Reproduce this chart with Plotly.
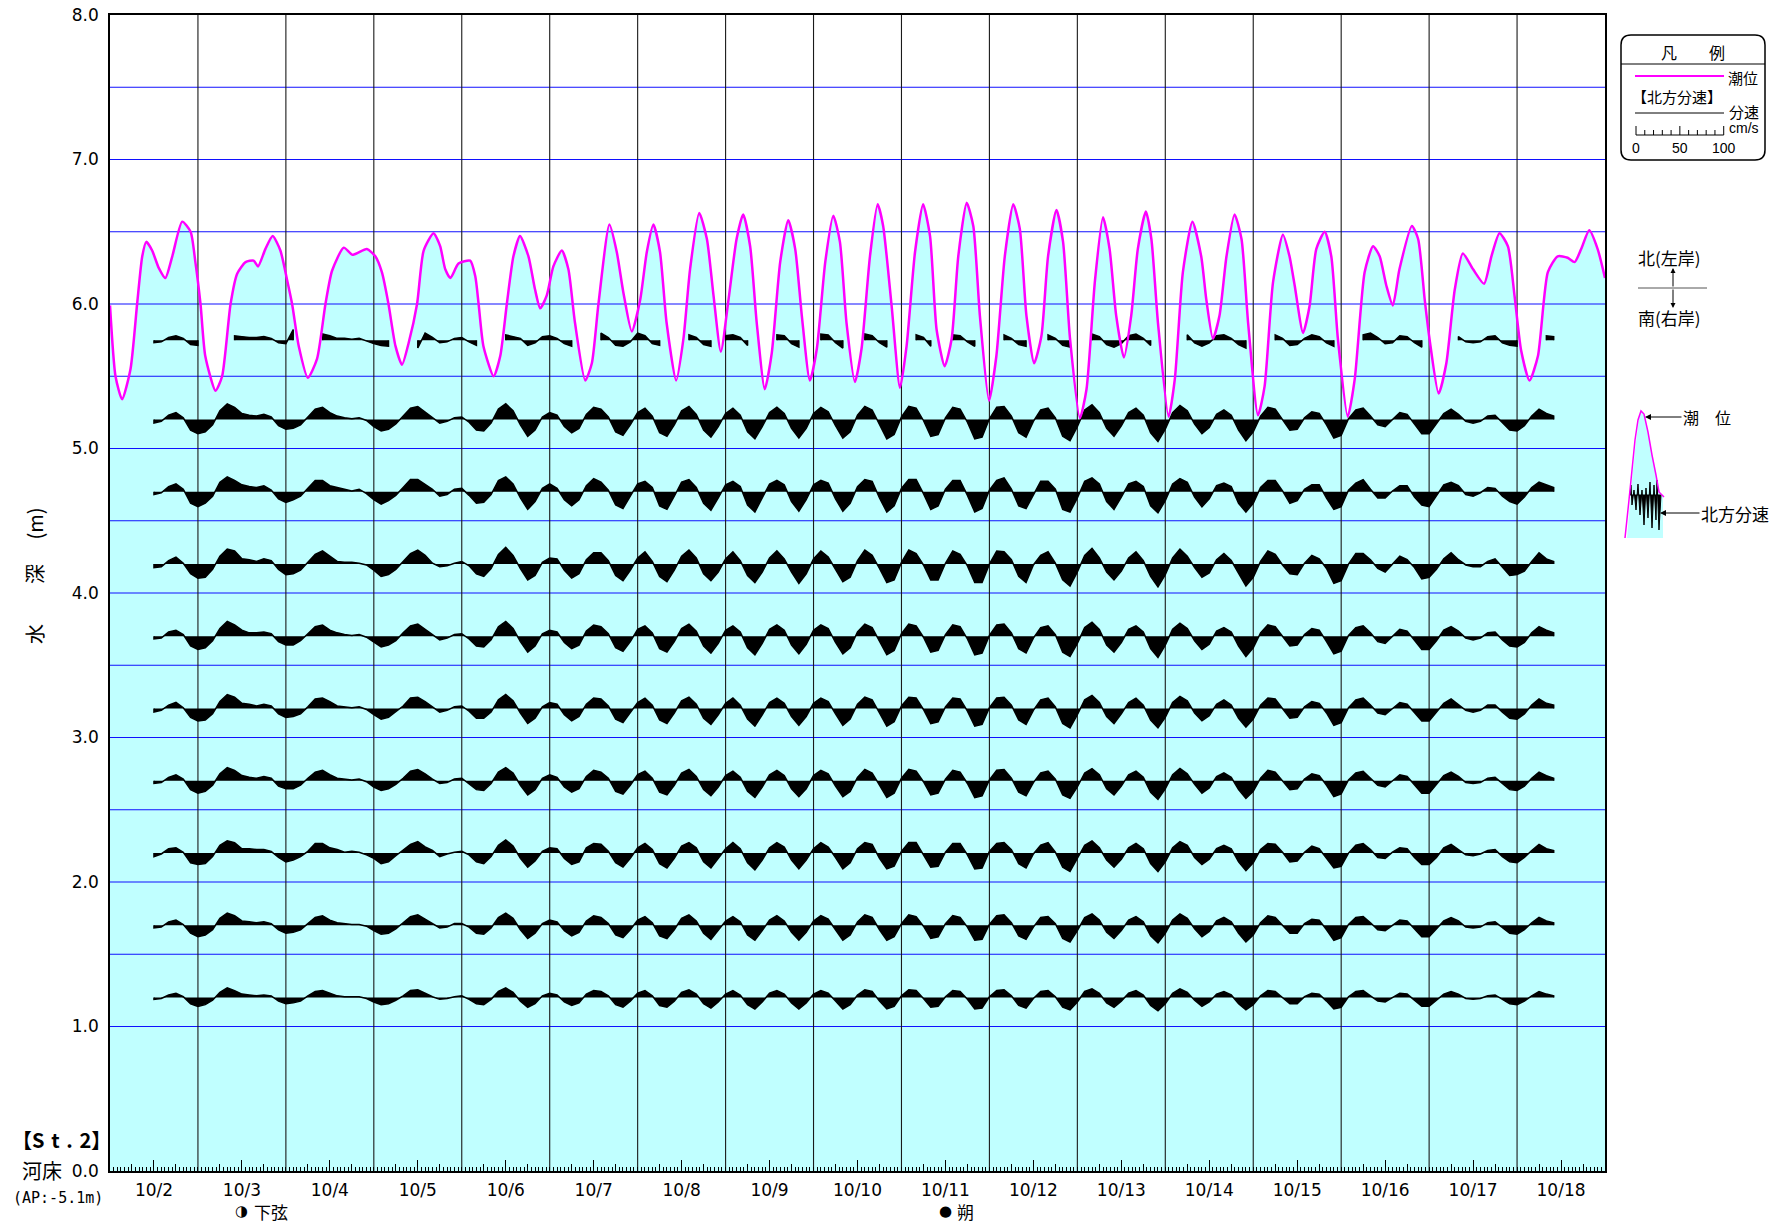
import plotly.graph_objects as go

# ---------------- geometry (pixels of the 1771x1226 page) ----------------
W, H = 1771, 1226
ML, MR, MT, MB = 110, 166, 15, 55
PX0, PX1 = ML, W - MR
PY0, PY1 = MT, H - MB


def px(x):
    return (x - PX0) / (PX1 - PX0)


def py(y):
    return (PY1 - y) / (PY1 - PY0)


# ---------------- data ----------------
X_HOURS = 408  # 10/2 00:00 .. 10/19 00:00
DATE_LABELS = ["10/2", "10/3", "10/4", "10/5", "10/6", "10/7", "10/8", "10/9", "10/10",
               "10/11", "10/12", "10/13", "10/14", "10/15", "10/16", "10/17", "10/18"]
DEPTH_TICKS = [0, 1, 2, 3, 4, 5, 6, 7, 8]
DEPTH_TICK_TEXT = ["0.0", "1.0", "2.0", "3.0", "4.0", "5.0", "6.0", "7.0", "8.0"]
GRID_DEPTHS = [1.0, 1.5, 2.0, 2.5, 3.0, 3.5, 4.0, 4.5, 5.0, 5.5, 6.0, 6.5, 7.0, 7.5]

TIDE_HOURS = [0, 1.5, 3.3, 5.6, 7.4, 8.8, 9.9, 11.5, 13.3, 15.1, 17.0, 19.7, 22.0, 23.3, 24.7, 26.0,
              28.8, 30.6, 32.9, 34.7, 37.0, 39.2, 40.4, 42.4, 44.4, 46.5, 48.3, 49.7, 51.5, 54.0,
              56.5, 58.8, 60.6, 63.8, 66.2, 70.1, 72.4, 74.2, 76.0, 77.9, 79.7, 81.5, 83.8, 85.6,
              88.3, 90.1, 91.5, 92.9, 95.1, 98.3, 99.7, 100.6, 101.9, 104.7, 106.5, 108.3, 110.1,
              111.9, 114.2, 116.0, 117.4, 119.2, 121.0, 123.3, 125.1, 126.9, 129.7, 131.5, 133.3,
              136.3, 138.3, 140.1, 142.4, 144.7, 146.5, 148.3, 150.1, 151.9, 154.5, 156.5, 158.3,
              160.8, 162.9, 164.7, 166.7, 168.8, 171.0, 172.8, 174.7, 176.5, 178.7, 180.6, 182.9,
              185.1, 187.0, 188.8, 191.0, 192.9, 195.2, 197.4, 199.2, 201.0, 203.3, 205.1, 207.4,
              209.5, 211.0, 213.3, 215.6, 217.4, 219.7, 221.9, 223.8, 225.6, 227.8, 229.7, 231.5,
              233.8, 235.6, 237.4, 239.9, 241.9, 244.2, 246.5, 248.3, 250.1, 252.2, 254.2, 256.0,
              258.3, 260.1, 262.0, 264.7, 266.5, 268.8, 271.0, 272.8, 274.6, 276.7, 278.7, 280.5,
              282.7, 284.2, 286.0, 288.9, 290.6, 292.8, 295.4, 297.8, 299.2, 301.0, 302.8, 304.7,
              306.9, 308.8, 310.6, 313.3, 315.1, 317.4, 320.1, 321.9, 323.3, 325.6, 327.4, 329.2,
              331.5, 333.3, 335.1, 337.8, 339.7, 342.4, 344.7, 346.5, 348.3, 350.1, 351.9, 355.3,
              357.0, 358.8, 360.1, 362.6, 364.7, 367.0, 369.2, 372.0, 375.0, 377.0, 379.2, 381.5,
              383.3, 385.1, 387.4, 389.7, 392.4, 395.1, 397.8, 399.7, 401.5, 403.7, 406.0, 408.0]
TIDE_DEPTH = [5.99, 5.50, 5.34, 5.55, 6.00, 6.33, 6.43, 6.37, 6.25, 6.18, 6.33, 6.57, 6.50, 6.29, 6.00, 5.64,
              5.40, 5.50, 6.00, 6.21, 6.29, 6.30, 6.26, 6.38, 6.47, 6.37, 6.17, 6.00, 5.71, 5.49,
              5.62, 6.00, 6.23, 6.39, 6.34, 6.38, 6.33, 6.22, 6.00, 5.71, 5.58, 5.73, 6.00, 6.37,
              6.49, 6.40, 6.24, 6.18, 6.28, 6.30, 6.19, 6.00, 5.71, 5.50, 5.64, 6.00, 6.33,
              6.47, 6.33, 6.10, 5.97, 6.06, 6.26, 6.37, 6.24, 5.87, 5.47, 5.59, 6.00,
              6.55, 6.36, 6.08, 5.81, 6.03, 6.36, 6.55, 6.36, 5.87, 5.47, 5.76, 6.24,
              6.63, 6.45, 6.06, 5.67, 6.03, 6.45, 6.62, 6.40, 5.87, 5.41, 5.66, 6.29,
              6.58, 6.38, 5.92, 5.47, 5.69, 6.29, 6.61, 6.43, 5.87, 5.46, 5.69, 6.33,
              6.69, 6.54, 5.99, 5.42, 5.71, 6.36, 6.69, 6.47, 5.82, 5.57, 5.76, 6.33,
              6.70, 6.54, 5.92, 5.33, 5.64, 6.33, 6.69, 6.52, 5.92, 5.59, 5.78, 6.33,
              6.65, 6.43, 5.76, 5.21, 5.41, 6.16, 6.60, 6.38, 5.92, 5.63, 5.92, 6.38,
              6.64, 6.45, 5.87, 5.22, 5.48, 6.22, 6.57, 6.33, 6.03, 5.76, 5.92, 6.33,
              6.62, 6.45, 5.87, 5.23, 5.43, 6.15, 6.48, 6.33, 6.13, 5.80, 5.99, 6.38,
              6.50, 6.33, 5.76, 5.22, 5.48, 6.22, 6.40, 6.33, 6.13, 5.99, 6.24, 6.54,
              6.45, 6.03, 5.76, 5.38, 5.59, 6.10, 6.35, 6.24, 6.14, 6.33, 6.49, 6.40,
              6.06, 5.68, 5.47, 5.64, 6.22, 6.33, 6.32, 6.29, 6.38, 6.51, 6.38, 6.18]

# north velocity component (cm/s), one value every 2 h from 10/2 12:00
VEL_HOURS = list(range(12, 395, 2))
SENSOR_DEPTHS = [5.75, 5.2, 4.7, 4.2, 3.7, 3.2, 2.7, 2.2, 1.7, 1.2]
N = None
VEL_575 = [-3, -2, 3, 5, 2, -5, -6, N, N, N,
           N, 5, 4, 3, 3, 4, 2, -3, -4, 12,
           N, N, N, 7, 5, 2, 2, 1, 2, -1,
           -4, -6, -7, N, N, N, -9, 8, 3, -3,
           -2, 2, 3, -2, -6, N, N, N, 6, 4,
           2, -6, -3, 4, 5, 2, -4, -7, N, N,
           N, 8, 3, -6, -7, -2, 8, 5, -4, -6,
           N, N, N, 6, 3, -5, -7, N, 5, 6,
           3, -6, N, N, N, 6, 5, -4, -8, N,
           N, 7, 6, -3, -9, N, N, 7, 5, -3,
           -8, N, N, N, 6, 3, -7, N, N, 6,
           5, -2, -7, N, N, N, 6, 2, -5, -7,
           N, N, 6, 2, -6, -8, N, N, 7, 4,
           -5, -8, -4, 5, 7, 2, -6, N, N, N,
           N, 6, -3, -7, -3, 5, 6, 2, -5, -9,
           N, N, N, 6, 2, -6, -5, 2, 6, 4,
           -3, -7, N, N, N, 6, 8, 3, -4, -3,
           5, 4, -3, -8, N, N, N, N, 4, -2,
           -3, -2, 4, 5, -3, -6, -7, N, N, N,
           5, 4]
VEL_520 = [-4, -2, 5, 8, 2, -12, -16, -14, -6, 10,
           18, 14, 7, 5, 4, 6, 3, -7, -11, -10,
           -6, 3, 12, 14, 8, 4, 2, 1, 2, -1,
           -8, -13, -11, -5, 4, 13, 15, 9, 2, -4,
           -2, 2, 3, -3, -12, -13, -4, 12, 18, 10,
           -6, -19, -12, 3, 8, 5, -8, -15, -10, 6,
           14, 12, 3, -14, -18, -6, 8, 13, 4, -15,
           -19, -6, 10, 15, 6, -12, -20, -8, 7, 13,
           5, -14, -22, -8, 8, 14, 7, -10, -21, -10,
           7, 14, 9, -7, -21, -14, 5, 15, 11, -6,
           -22, -17, 3, 15, 13, -1, -19, -17, 2, 14,
           12, -3, -22, -20, 1, 14, 15, 4, -15, -20,
           -2, 11, 13, 2, -19, -24, -8, 11, 17, 8,
           -10, -19, -7, 8, 13, 5, -15, -25, -11, 8,
           16, 10, -5, -16, -9, 6, 11, 5, -12, -24,
           -14, 4, 14, 12, 0, -12, -11, 2, 9, 7,
           -6, -21, -18, 1, 11, 13, 4, -6, -8, 0,
           8, 6, -5, -16, -16, -5, 7, 12, 6, -2,
           -4, -2, 4, 5, -4, -12, -13, -7, 4, 12,
           7, 4]
VEL_470 = [-3, -1, 6, 9, 3, -13, -17, -13, -5, 11,
           17, 13, 8, 6, 5, 7, 2, -8, -12, -9,
           -5, 4, 13, 13, 7, 5, 3, 1, 3, -2,
           -9, -14, -10, -4, 5, 14, 14, 8, 3, -5,
           -3, 3, 4, -4, -13, -12, -3, 13, 17, 9,
           -7, -20, -11, 4, 9, 4, -9, -16, -9, 7,
           15, 11, 2, -15, -19, -5, 9, 12, 5, -16,
           -20, -5, 11, 14, 5, -13, -21, -7, 8, 12,
           6, -15, -23, -7, 9, 13, 8, -11, -22, -9,
           8, 13, 10, -8, -22, -13, 6, 14, 12, -7,
           -23, -16, 4, 14, 14, -2, -20, -16, 3, 13,
           13, -4, -23, -19, 2, 13, 16, 3, -16, -19,
           -3, 12, 12, 3, -20, -23, -7, 12, 16, 9,
           -11, -20, -6, 9, 12, 6, -16, -24, -10, 9,
           15, 11, -6, -17, -8, 7, 10, 6, -13, -23,
           -13, 5, 13, 13, 1, -13, -10, 3, 8, 8,
           -7, -20, -17, 2, 10, 14, 3, -7, -7, 1,
           7, 7, -6, -15, -17, -4, 8, 11, 7, -3,
           -5, -1, 5, 4, -5, -11, -14, -6, 5, 11,
           8, 5]
VEL_420 = [-4, -3, 4, 8, 1, -11, -16, -15, -6, 9,
           17, 15, 6, 5, 3, 6, 4, -6, -12, -11,
           -7, 2, 11, 15, 9, 3, 2, 2, 1, -1,
           -7, -14, -12, -6, 3, 12, 16, 10, 1, -3,
           -2, 1, 3, -2, -11, -14, -5, 11, 19, 10,
           -5, -18, -13, 2, 7, 6, -7, -16, -11, 5,
           13, 13, 4, -13, -19, -7, 7, 14, 3, -14,
           -20, -7, 9, 16, 7, -11, -19, -9, 6, 14,
           4, -13, -21, -9, 7, 15, 6, -9, -22, -11,
           6, 15, 8, -6, -20, -15, 4, 16, 10, -5,
           -21, -18, 2, 16, 12, -1, -18, -18, 1, 15,
           11, -2, -21, -21, 0, 15, 14, 5, -14, -21,
           -1, 10, 14, 1, -18, -25, -9, 10, 18, 7,
           -9, -18, -8, 7, 14, 4, -14, -26, -12, 7,
           17, 9, -4, -15, -10, 5, 12, 4, -11, -25,
           -15, 3, 15, 11, -1, -11, -12, 1, 10, 6,
           -5, -22, -19, 0, 12, 12, 5, -5, -9, 0,
           9, 5, -4, -17, -15, -6, 6, 13, 5, -1,
           -3, -3, 3, 6, -3, -13, -12, -8, 3, 13,
           6, 3]
VEL_370 = [-3, -2, 5, 7, 2, -11, -15, -13, -5, 9,
           17, 13, 7, 4, 4, 5, 3, -6, -10, -10,
           -5, 3, 11, 13, 7, 4, 2, 1, 2, -1,
           -7, -12, -10, -5, 4, 12, 14, 8, 2, -4,
           -2, 2, 3, -3, -11, -12, -4, 11, 17, 9,
           -6, -18, -11, 3, 7, 5, -7, -14, -10, 6,
           13, 11, 3, -13, -17, -6, 8, 12, 4, -14,
           -18, -6, 9, 14, 6, -11, -19, -8, 7, 12,
           5, -13, -21, -8, 8, 13, 7, -10, -20, -9,
           7, 13, 9, -7, -20, -13, 5, 14, 10, -6,
           -21, -16, 3, 14, 12, -1, -18, -16, 2, 13,
           11, -3, -21, -19, 1, 13, 14, 4, -14, -19,
           -2, 10, 12, 2, -18, -23, -8, 10, 16, 8,
           -10, -18, -7, 8, 12, 5, -14, -24, -10, 8,
           15, 9, -5, -15, -9, 6, 10, 5, -11, -23,
           -13, 4, 13, 11, 0, -11, -10, 2, 9, 7,
           -6, -20, -17, 1, 10, 12, 4, -6, -8, 0,
           8, 6, -5, -15, -15, -5, 7, 11, 6, -2,
           -4, -2, 4, 5, -4, -11, -12, -7, 4, 11,
           7, 4]
VEL_320 = [-4, -2, 4, 7, 1, -10, -14, -13, -6, 8,
           16, 13, 6, 5, 3, 5, 3, -6, -10, -9,
           -6, 2, 11, 12, 8, 3, 2, 1, 2, -1,
           -7, -12, -10, -4, 3, 12, 13, 8, 2, -4,
           -2, 2, 3, -3, -11, -11, -4, 10, 16, 9,
           -5, -17, -11, 2, 7, 5, -7, -14, -9, 5,
           12, 11, 3, -12, -16, -5, 7, 12, 4, -13,
           -17, -5, 9, 13, 5, -11, -18, -7, 6, 12,
           4, -12, -20, -7, 7, 12, 6, -9, -19, -9,
           6, 12, 8, -6, -19, -12, 5, 13, 10, -5,
           -20, -15, 3, 13, 12, -1, -17, -15, 2, 12,
           11, -3, -20, -18, 1, 12, 13, 4, -13, -18,
           -2, 10, 12, 2, -17, -22, -7, 10, 15, 7,
           -9, -17, -6, 7, 12, 4, -13, -22, -10, 7,
           14, 9, -5, -14, -8, 5, 10, 4, -11, -21,
           -12, 4, 12, 11, 0, -11, -10, 2, 8, 6,
           -5, -19, -16, 1, 10, 12, 4, -5, -7, 0,
           7, 5, -4, -14, -14, -4, 6, 11, 5, -2,
           -4, -2, 4, 4, -4, -11, -12, -6, 4, 11,
           6, 4]
VEL_270 = [-3, -2, 4, 7, 2, -10, -14, -12, -5, 8,
           15, 12, 6, 4, 3, 5, 3, -6, -9, -9,
           -5, 3, 10, 12, 7, 3, 2, 1, 2, -1,
           -7, -11, -9, -4, 3, 11, 13, 8, 2, -3,
           -2, 2, 3, -3, -10, -11, -3, 10, 15, 9,
           -5, -16, -10, 3, 7, 4, -7, -13, -9, 5,
           12, 10, 3, -12, -15, -5, 7, 11, 3, -13,
           -16, -5, 9, 13, 5, -10, -17, -7, 6, 11,
           4, -12, -19, -7, 7, 12, 6, -9, -18, -9,
           6, 12, 8, -6, -18, -12, 4, 13, 9, -5,
           -19, -14, 3, 13, 11, -1, -16, -14, 2, 12,
           10, -3, -19, -17, 1, 12, 13, 3, -13, -17,
           -2, 9, 11, 2, -16, -20, -7, 9, 14, 7,
           -9, -16, -6, 7, 11, 4, -13, -21, -9, 7,
           14, 8, -4, -14, -8, 5, 9, 4, -10, -20,
           -12, 3, 12, 10, 0, -10, -9, 2, 8, 6,
           -5, -18, -15, 1, 9, 11, 3, -5, -7, 0,
           7, 5, -4, -14, -14, -4, 6, 10, 5, -2,
           -3, -2, 3, 4, -3, -10, -11, -6, 3, 10,
           6, 3]
VEL_220 = [-4, -1, 5, 6, 1, -11, -13, -12, -4, 9,
           14, 12, 5, 5, 4, 4, 2, -5, -10, -8,
           -4, 2, 11, 11, 6, 4, 1, 2, 1, -2,
           -6, -12, -10, -3, 4, 10, 13, 7, 3, -4,
           -1, 1, 2, -2, -10, -12, -4, 9, 15, 8,
           -6, -16, -9, 2, 6, 5, -6, -13, -10, 6,
           11, 10, 2, -11, -16, -6, 6, 11, 4, -12,
           -17, -6, 8, 12, 6, -10, -17, -6, 5, 12,
           5, -11, -19, -8, 6, 12, 7, -8, -18, -8,
           5, 12, 7, -5, -18, -11, 5, 12, 10, -6,
           -18, -15, 2, 12, 12, -2, -16, -15, 1, 11,
           11, -2, -18, -17, 2, 11, 12, 4, -12, -17,
           -1, 9, 12, 1, -16, -21, -6, 9, 14, 6,
           -8, -16, -7, 6, 11, 5, -12, -21, -10, 6,
           13, 9, -5, -13, -7, 5, 9, 5, -10, -20,
           -11, 4, 11, 10, 1, -10, -9, 1, 8, 5,
           -6, -17, -15, 0, 9, 11, 4, -5, -6, 1,
           6, 5, -5, -13, -13, -5, 6, 10, 4, -2,
           -3, -1, 3, 4, -4, -10, -11, -5, 3, 10,
           5, 3]
VEL_170 = [-3, -2, 4, 6, 1, -9, -13, -11, -5, 8,
           14, 11, 5, 4, 3, 4, 2, -5, -9, -8,
           -5, 2, 9, 11, 6, 3, 2, 1, 1, -1,
           -6, -10, -9, -4, 3, 10, 12, 7, 2, -3,
           -2, 2, 2, -2, -9, -10, -3, 9, 14, 8,
           -5, -15, -9, 2, 6, 4, -6, -12, -8, 5,
           11, 9, 2, -11, -14, -5, 6, 10, 3, -12,
           -15, -5, 8, 12, 5, -9, -16, -6, 5, 10,
           4, -11, -17, -6, 6, 11, 5, -8, -17, -8,
           5, 11, 7, -5, -17, -11, 4, 12, 9, -5,
           -17, -13, 2, 12, 10, -1, -15, -13, 2, 11,
           9, -2, -17, -16, 1, 11, 12, 3, -12, -16,
           -2, 9, 10, 2, -15, -19, -6, 9, 13, 6,
           -8, -15, -6, 6, 10, 4, -12, -20, -9, 6,
           13, 8, -4, -13, -7, 5, 9, 4, -9, -19,
           -11, 3, 11, 9, 0, -9, -9, 2, 7, 6,
           -5, -17, -14, 1, 9, 10, 3, -5, -6, 0,
           6, 5, -4, -13, -13, -4, 5, 9, 5, -2,
           -3, -2, 3, 4, -3, -9, -10, -5, 3, 9,
           5, 3]
VEL_120 = [-2, -1, 3, 5, 1, -7, -10, -8, -3, 6,
           11, 8, 4, 3, 2, 3, 2, -4, -7, -6,
           -4, 2, 7, 8, 5, 2, 1, 1, 1, -1,
           -5, -8, -7, -3, 2, 8, 9, 5, 1, -2,
           -1, 1, 2, -2, -7, -8, -2, 7, 11, 6,
           -4, -11, -7, 2, 5, 3, -5, -9, -6, 4,
           8, 7, 2, -8, -11, -4, 5, 8, 2, -9,
           -11, -4, 6, 9, 4, -7, -12, -5, 4, 8,
           3, -8, -13, -5, 5, 8, 4, -6, -13, -6,
           4, 8, 5, -4, -13, -8, 3, 9, 7, -4,
           -13, -10, 2, 9, 8, -1, -11, -10, 1, 8,
           7, -2, -13, -12, 1, 8, 9, 2, -9, -12,
           -1, 7, 8, 1, -11, -14, -5, 7, 10, 5,
           -6, -11, -4, 5, 8, 3, -9, -15, -7, 5,
           10, 6, -3, -10, -5, 4, 7, 3, -7, -14,
           -8, 2, 8, 7, 0, -7, -7, 1, 5, 4,
           -4, -13, -11, 1, 7, 8, 2, -4, -5, 0,
           5, 4, -3, -10, -10, -3, 4, 7, 4, -1,
           -2, -1, 2, 3, -2, -7, -8, -4, 2, 7,
           4, 2]
VELOCITIES = [VEL_575, VEL_520, VEL_470, VEL_420, VEL_370,
              VEL_320, VEL_270, VEL_220, VEL_170, VEL_120]

MOON_SYMBOLS = ["◑", "●"]
MOON_NAMES = ["下弦", "朔"]
MOON_HOURS = [36, 228]

# velocity drawing scale: 100 cm/s = 0.607 m on the depth axis
M_PER_CMS = 0.00607
PX_PER_M = (PY1 - PY0) / 8.0
SCALE_TICKS = [0, 10, 20, 30, 40, 50, 60, 70, 80, 90, 100]
SCALE_LABELS = [0, 50, 100]

CYAN = "#C0FFFF"
MAGENTA = "#FF00FF"
CJK = "Noto Sans CJK JP"

fig = go.Figure()

# tide fill
fig.add_trace(go.Scatter(x=TIDE_HOURS, y=TIDE_DEPTH, mode="lines",
                         line=dict(width=0, shape="spline", smoothing=0.6, color="rgba(0,0,0,0)"),
                         fill="tozeroy", fillcolor=CYAN, hoverinfo="skip", showlegend=False))

# grid drawn above the fill
gx, gy = [], []
for g in GRID_DEPTHS:
    gx += [0, X_HOURS, None]
    gy += [g, g, None]
fig.add_trace(go.Scatter(x=gx, y=gy, mode="lines", line=dict(color="#1010FF", width=1.1),
                         hoverinfo="skip", showlegend=False))
vx, vy = [], []
for h in range(24, X_HOURS, 24):
    vx += [h, h, None]
    vy += [0, 8, None]
fig.add_trace(go.Scatter(x=vx, y=vy, mode="lines", line=dict(color="#1A1A1A", width=1.1),
                         hoverinfo="skip", showlegend=False))

# velocity traces (filled to their own baseline)
for base, vals in zip(SENSOR_DEPTHS, VELOCITIES):
    xs, ys, seg = [], [], []
    for t, v in list(zip(VEL_HOURS, vals)) + [(None, None)]:
        if v is None:
            if seg:
                xs.extend([seg[0][0]] + [p[0] for p in seg] + [seg[-1][0], None])
                ys.extend([base] + [p[1] for p in seg] + [base, None])
                seg = []
        else:
            seg.append((t, base + v * M_PER_CMS))
    fig.add_trace(go.Scatter(x=xs, y=ys, mode="lines", fill="toself", fillcolor="black",
                             line=dict(color="black", width=1.5), hoverinfo="skip",
                             showlegend=False))

# tide line
fig.add_trace(go.Scatter(x=TIDE_HOURS, y=TIDE_DEPTH, mode="lines",
                         line=dict(width=2.5, shape="spline", smoothing=0.6, color=MAGENTA),
                         hoverinfo="skip", showlegend=False))

# dummy trace to carry the 6-hour tick axis
fig.add_trace(go.Scatter(x=[0], y=[0], xaxis="x2", yaxis="y", mode="markers",
                         marker=dict(opacity=0), hoverinfo="skip", showlegend=False))

tickfont = dict(family="DejaVu Sans", size=17, color="black")
fig.update_layout(
    width=W, height=H, autosize=False,
    margin=dict(l=ML, r=MR, t=MT, b=MB, autoexpand=False),
    paper_bgcolor="white", plot_bgcolor="white",
    hovermode=False, showlegend=False,
    font=dict(family="DejaVu Sans", color="black"),
    xaxis=dict(range=[0, X_HOURS], tickmode="array", automargin=False,
               tickvals=[12 + 24 * i for i in range(len(DATE_LABELS))], ticktext=DATE_LABELS,
               ticks="inside", ticklen=11, tickwidth=1, tickcolor="black",
               showgrid=False, zeroline=False, showline=True, mirror=True,
               linecolor="black", linewidth=1.5, tickfont=tickfont, ticklabelstandoff=3,
               minor=dict(ticks="inside", tickmode="linear", tick0=0, dtick=1, ticklen=4,
                          tickwidth=1, tickcolor="black", showgrid=False)),
    xaxis2=dict(range=[0, X_HOURS], overlaying="x", anchor="y", side="bottom", automargin=False,
                tickmode="array", tickvals=list(range(6, X_HOURS, 12)),
                ticks="inside", ticklen=7, tickwidth=1, tickcolor="black",
                showticklabels=False, showgrid=False, zeroline=False, showline=False),
    yaxis=dict(range=[0, 8], tickmode="array", tickvals=DEPTH_TICKS, ticktext=DEPTH_TICK_TEXT,
               automargin=False,
               ticks="", showgrid=False, zeroline=False, showline=True, mirror=True,
               linecolor="black", linewidth=1.5, tickfont=tickfont, ticklabelstandoff=6),
)

ann = []
shapes = []


def text(x, y, s, size=15, family=CJK, xanchor="center", angle=0):
    ann.append(dict(x=px(x), y=py(y), xref="paper", yref="paper", text=s, showarrow=False,
                    xanchor=xanchor, yanchor="middle", textangle=angle,
                    font=dict(family=family, size=size, color="black")))


def line(x0, y0, x1, y1, color="black", width=1):
    shapes.append(dict(type="line", xref="paper", yref="paper", x0=px(x0), y0=py(y0),
                       x1=px(x1), y1=py(y1), line=dict(color=color, width=width)))


def poly(points, fill=None, color=None, width=0, close=True):
    d = "M " + " L ".join(f"{px(a):.5f},{py(b):.5f}" for a, b in points)
    if close:
        d += " Z"
    shapes.append(dict(type="path", xref="paper", yref="paper", path=d,
                       fillcolor=fill if fill else "rgba(0,0,0,0)",
                       line=dict(color=color if color else "rgba(0,0,0,0)", width=width)))


# left labels
SP = "\u2004"
text(113, 1139, "<b>【S" + SP + "t" + SP + "." + SP + "2】</b>", size=20, xanchor="right")
text(42, 1170, "河床", size=20)
text(58, 1198, "(AP:-5.1m)", size=15, family="DejaVu Sans Mono")
text(34, 576, "水　　深　 (m)", size=20, angle=-90)

# moon phases
for sym, name, hr in zip(MOON_SYMBOLS, MOON_NAMES, MOON_HOURS):
    xpix = PX0 + hr / X_HOURS * (PX1 - PX0)
    text(xpix, 1211, sym, size=15, family="DejaVu Sans")
    text(xpix + 10, 1211, name, size=17, xanchor="left")

# legend box
bx0, by0, bx1, by1, r = 1621, 35, 1765, 160, 10
d = (f"M {px(bx0 + r)},{py(by0)} L {px(bx1 - r)},{py(by0)} "
     f"Q {px(bx1)},{py(by0)} {px(bx1)},{py(by0 + r)} L {px(bx1)},{py(by1 - r)} "
     f"Q {px(bx1)},{py(by1)} {px(bx1 - r)},{py(by1)} L {px(bx0 + r)},{py(by1)} "
     f"Q {px(bx0)},{py(by1)} {px(bx0)},{py(by1 - r)} L {px(bx0)},{py(by0 + r)} "
     f"Q {px(bx0)},{py(by0)} {px(bx0 + r)},{py(by0)} Z")
shapes.append(dict(type="path", xref="paper", yref="paper", path=d,
                   line=dict(color="black", width=1.5), fillcolor="white"))
text(1693, 52, "凡　　例", size=16)
line(bx0, 64, bx1, 64, width=1)
line(1635, 76, 1724, 76, color=MAGENTA, width=2)
text(1743, 77, "潮位", size=15)
text(1677, 96, "【北方分速】", size=15)
line(1635, 113, 1724, 113, width=1)
text(1744, 111, "分速", size=15)
sx0 = 1636
spx = M_PER_CMS * PX_PER_M
line(sx0, 135, sx0 + SCALE_TICKS[-1] * spx, 135, width=1)
for v in SCALE_TICKS:
    xx = sx0 + v * spx
    line(xx, 135, xx, 126 if v in SCALE_LABELS else 130, width=1)
for v in SCALE_LABELS:
    text(sx0 + v * spx, 148, str(v), size=14, family="Liberation Sans")
text(1744, 128, "cm/s", size=14, family="Liberation Sans")

# north / south indicator
text(1669, 257, "北(左岸)", size=17)
text(1669, 317, "南(右岸)", size=17)
line(1638, 288, 1707, 288, color="#555555", width=1)
for yhead, off in ((268, 20), (308, -20)):
    ann.append(dict(x=px(1673), y=py(yhead), xref="paper", yref="paper", text="",
                    showarrow=True, arrowhead=2, arrowsize=1, arrowwidth=1, arrowcolor="black",
                    ax=0, ay=off, axref="pixel", ayref="pixel"))

# mini explanatory sketch
poly([(1627, 538), (1631, 490), (1635, 450), (1639, 418), (1641, 411), (1644, 415), (1648, 432),
      (1652, 455), (1656, 475), (1660, 494), (1663, 496), (1663, 538)], fill=CYAN)
poly([(1630, 495), (1631, 485), (1632, 505), (1634, 490), (1636, 510), (1638, 484), (1640, 515),
      (1642, 490), (1644, 525), (1646, 488), (1648, 518), (1650, 482), (1652, 528), (1654, 485),
      (1656, 520), (1657, 480), (1659, 530), (1661, 495)], fill="black", color="black", width=1)
poly([(1625, 538), (1629, 500), (1632, 470), (1635, 440), (1638, 420), (1641, 411), (1644, 414),
      (1648, 432), (1652, 455), (1656, 475), (1659, 492), (1664, 497)],
     color=MAGENTA, width=1.5, close=False)
ann.append(dict(x=px(1645), y=py(417), xref="paper", yref="paper", text="潮　位",
                showarrow=True, arrowhead=2, arrowsize=1.2, arrowwidth=1, arrowcolor="black",
                ax=62, ay=0, font=dict(family=CJK, size=16, color="black")))
ann.append(dict(x=px(1660), y=py(513), xref="paper", yref="paper", text="北方分速",
                showarrow=True, arrowhead=2, arrowsize=1.2, arrowwidth=1, arrowcolor="black",
                ax=75, ay=0, font=dict(family=CJK, size=17, color="black")))

fig.update_layout(annotations=ann, shapes=shapes)
fig.write_html("out.html")
